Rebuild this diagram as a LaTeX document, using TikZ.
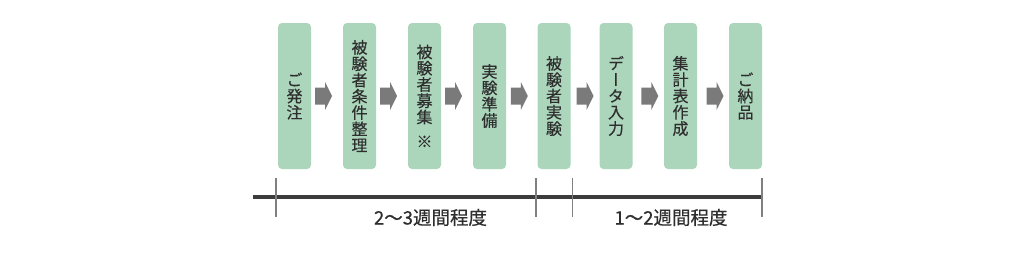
\documentclass[tikz,border=0pt]{standalone}
\usepackage{fontspec}
\setmainfont{Noto Sans CJK JP}
\newfontfamily\vjp[Vertical=Alternates,FakeBold=0.3]{Noto Sans CJK JP}
\newfontfamily\lbl[FakeBold=0.6]{Noto Sans CJK JP}
\usetikzlibrary{calc}
\definecolor{boxgreen}{HTML}{ABD6BB}
\definecolor{arrowgray}{HTML}{7A7A7A}
\definecolor{linedark}{HTML}{3C3C3C}
\definecolor{tickgray}{HTML}{808080}
\definecolor{txt}{HTML}{2E2E2E}
\begin{document}
\begin{tikzpicture}[x=1pt,y=-1pt,
  stepbox/.style={fill=boxgreen, rounded corners=4pt, minimum width=33pt, minimum height=146pt,
    inner sep=0pt, align=center, text=txt, font=\vjp\fontsize{16pt}{16.3pt}\selectfont},
  flowarrow/.style={fill=arrowgray},
  mainline/.style={draw=linedark, line width=4.2pt},
  tickline/.style={draw=tickgray, line width=1.4pt},
  spanlabel/.style={text=txt, font=\lbl\fontsize{18.5pt}{20pt}\selectfont, inner sep=0pt}]
\useasboundingbox (0,0) rectangle (1024,260);
\node[stepbox] (b1) at (294.5,96) {ご\\発\\注};
\node[stepbox] (b2) at (359.5,96) {被\\験\\者\\条\\件\\整\\理};
\node[stepbox] (b3) at (424.5,96) {被\\験\\者\\募\\集\\[8pt]※};
\node[stepbox] (b4) at (489.5,96) {実\\験\\準\\備};
\node[stepbox] (b5) at (554,96) {被\\験\\者\\実\\験};
\node[stepbox] (b6) at (616,96) {デ\\ー\\タ\\入\\力};
\node[stepbox] (b7) at (680.5,96) {集\\計\\表\\作\\成};
\node[stepbox] (b8) at (745.5,96) {ご\\納\\品};
% arrows
\foreach \a/\b/\dx in {b1/b2/-3.5, b2/b3/-3.5, b3/b4/-3.5, b4/b5/-2.5, b5/b6/0, b6/b7/1.5, b7/b8/2}{
  \coordinate (m) at ($(\a.east)!0.5!(\b.west)+(\dx,0)$);
  \fill[flowarrow] ($(m)+(-8.5,-8.5)$) -- ($(m)+(1.5,-8.5)$) -- ($(m)+(1.5,-14)$)
    -- ($(m)+(8.5,0)$) -- ($(m)+(1.5,14)$) -- ($(m)+(1.5,8.5)$) -- ($(m)+(-8.5,8.5)$) -- cycle;
}
% timeline
\coordinate (L) at (253,197);
\coordinate (R) at (762,197);
\draw[mainline] (L) -- (R);
\coordinate (t1) at (276,197);
\coordinate (t2) at (536,197);
\coordinate (t3) at (572.5,197);
\coordinate (t4) at (762,197);
\foreach \t in {t1,t2,t3,t4}{
  \draw[tickline] ($(\t)+(0,-19)$) -- ($(\t)+(0,20)$);
}
\node[spanlabel] (s1) at (430.5,217.5) {2～3週間程度};
\node[spanlabel] (s2) at (671,217.5) {1～2週間程度};
\end{tikzpicture}
\end{document}
